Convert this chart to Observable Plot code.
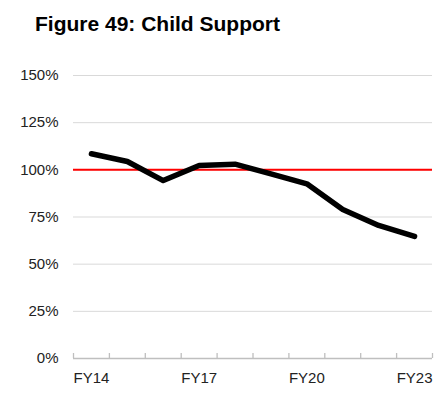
<!DOCTYPE html>
<html>
<head>
<meta charset="utf-8">
<script src="https://cdn.jsdelivr.net/npm/d3@7"></script>
<script src="https://cdn.jsdelivr.net/npm/@observablehq/plot@0.6"></script>
<style>
  html, body { margin: 0; padding: 0; background: #fff; }
  #wrap { position: relative; width: 441px; height: 402px; }
  #title { position: absolute; left: 35px; top: 13px; font: bold 21px/1 "Liberation Sans", Arial, sans-serif; color: #000; white-space: nowrap; }
  svg { display: block; }
</style>
</head>
<body>
<div id="wrap"><div id="title">Figure 49: Child Support</div></div>
<script>
const years = ["FY14","FY15","FY16","FY17","FY18","FY19","FY20","FY21","FY22","FY23"];
const values = [108.5, 104.4, 94.3, 102.3, 103.0, 97.9, 92.6, 79.0, 70.5, 64.7];
const yTicks = [0, 25, 50, 75, 100, 125, 150];
const xLabelYears = ["FY14", "FY17", "FY20", "FY23"];
const referenceLevel = 100;

const data = years.map((year, i) => ({i, year, value: values[i]}));
const labelIdx = xLabelYears.map(y => years.indexOf(y));
const boundaries = d3.range(years.length + 1).map(k => k - 0.5);

const chart = Plot.plot({
  width: 441,
  height: 402,
  marginTop: 75,
  marginBottom: 44,
  marginLeft: 73,
  marginRight: 9,
  style: {fontFamily: '"Liberation Sans", Arial, sans-serif', fontSize: "15px", color: "#222", background: "transparent"},
  x: {type: "linear", domain: [-0.5, years.length - 0.5]},
  y: {domain: [0, 150]},
  marks: [
    Plot.gridY(yTicks, {stroke: "#d9d9d9", strokeOpacity: 1}),
    Plot.axisY({ticks: yTicks, tickSize: 0, tickPadding: 15, tickFormat: d => d + "%", label: null, fontSize: 15}),
    Plot.axisX({ticks: labelIdx, tickSize: 0, tickPadding: 14, tickFormat: i => years[i], label: null, fontSize: 15}),
    Plot.ruleY([0], {stroke: "#bfbfbf", strokeWidth: 1.3}),
    Plot.ruleX(boundaries, {y1: 0, y2: 0, insetTop: -5, stroke: "#bfbfbf", strokeWidth: 1.3}),
    Plot.ruleY([referenceLevel], {stroke: "#ff0000", strokeWidth: 2}),
    Plot.line(data, {x: "i", y: "value", stroke: "#000", strokeWidth: 5.5, strokeLinecap: "round", strokeLinejoin: "round"})
  ]
});
document.getElementById("wrap").prepend(chart);
chart.style.position = "absolute";
chart.style.left = "0";
chart.style.top = "0";
</script>
</body>
</html>
